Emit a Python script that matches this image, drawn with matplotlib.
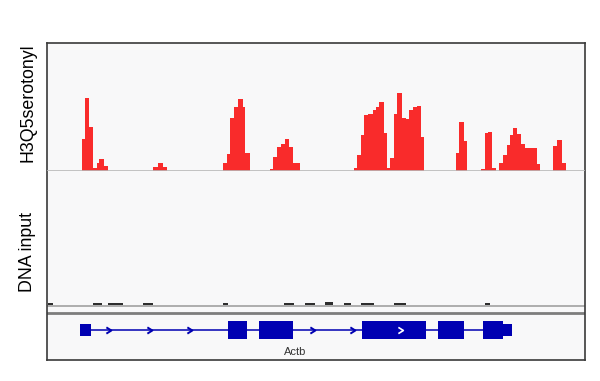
import matplotlib.pyplot as plt
from matplotlib.path import Path

# H3Q5serotonyl signal bins (locus coordinates along the window), heights in track units
sig_start = [82, 85, 89.3, 93.3, 96.7, 99.3, 104,
             153.3, 158.3, 163.3,
             223.3, 227.3, 230, 234, 238, 242.7, 245.3,
             269.5, 273, 277, 281, 285, 289, 293,
             354.3, 357.3, 361, 364.3, 368.3, 372.7, 376, 379, 384.3, 387.3,
             390, 394.3, 396.7, 401.7, 406, 409.3, 413.3, 416.7, 420.7,
             455.7, 459.3, 464,
             480.7, 485, 488.3, 492.3,
             499.3, 503.3, 506.7, 510, 513.3, 517.3, 520.7, 525, 536.7,
             552.7, 556.7, 561.7]
sig_end = [85, 89.3, 93.3, 96.7, 99.3, 104, 108.3,
           158.3, 163.3, 167.3,
           227.3, 230, 234, 238, 242.7, 245.3, 250,
           273, 277, 281, 285, 289, 293, 300,
           357.3, 361, 364.3, 368.3, 372.7, 376, 379, 384.3, 387.3, 390,
           394.3, 396.7, 401.7, 406, 409.3, 413.3, 416.7, 420.7, 424.3,
           459.3, 464, 466.7,
           485, 488.3, 492.3, 496,
           503.3, 506.7, 510, 513.3, 517.3, 520.7, 525, 536.7, 540,
           556.7, 561.7, 566]
sig_val = [32, 73, 44, 3, 8, 12, 5,
           4, 8, 4,
           8, 17, 53, 64, 72, 64, 18,
           2, 14, 24, 27, 32, 24, 8,
           3, 16, 36, 56, 57, 61, 64, 69, 38, 3,
           13, 57, 78, 53, 52, 61, 64, 65, 34,
           18, 49, 30,
           2, 38, 39, 3,
           8, 16, 26, 36, 43, 37, 27, 23, 7,
           25, 31, 8]

# DNA input: only tiny reads
inp_start = [48, 93, 108, 143, 223, 284, 305, 325, 344, 361, 394, 485]
inp_end = [53, 102, 123, 153, 228, 294, 315, 333, 351, 374, 406, 490]
inp_val = [1.6, 1.6, 1.6, 1.6, 1.6, 1.6, 1.6, 3.0, 1.6, 1.6, 1.6, 1.6]

# Actb gene model
gene_name = 'Actb'
utr_start = [80, 503.3]
utr_end = [91, 512.3]
exon_start = [227.7, 259, 361.7, 437.7, 483.3]
exon_end = [247.3, 293.3, 425.7, 464.3, 503.3]
intron_from, intron_to = 91, 483.3
arrow_pos = [109, 150, 190, 313, 353]
arrow_in_exon = [401]

x_lo, x_hi = 47, 585
W, H = 600, 381
red = '#f92b2b'
blue = '#0000b2'


def box(top, bottom):
    return [x_lo / W, 1 - bottom / H, (x_hi - x_lo) / W, (bottom - top) / H]


fig = plt.figure(figsize=(6.0, 3.81), dpi=100)
fig.patch.set_facecolor('white')

# frame around all tracks
frame = fig.add_axes(box(43, 360))
frame.set_facecolor('#f8f8f9')
frame.set_xlim(0, 1)
frame.set_ylim(360, 43)
frame.set_xticks([])
frame.set_yticks([])
for s in frame.spines.values():
    s.set_color('#3a3a3a')
    s.set_linewidth(1.2)
frame.axhline(306, color='#a8a8a8', lw=1.3)
frame.axhline(312.5, color='#7d7d7d', lw=2.0)

# signal track
ax_sig = fig.add_axes(box(43, 171))
ax_sig.patch.set_alpha(0)
ax_sig.bar(sig_start, sig_val, width=[e - s for s, e in zip(sig_start, sig_end)],
           align='edge', color=red, linewidth=0)
ax_sig.axhline(0, color='#b9b9b9', lw=1.2)
ax_sig.set_xlim(x_lo, x_hi)
ax_sig.set_ylim(0, 128)
ax_sig.axis('off')

# input track
ax_inp = fig.add_axes(box(171, 305))
ax_inp.patch.set_alpha(0)
ax_inp.bar(inp_start, inp_val, width=[e - s for s, e in zip(inp_start, inp_end)],
           align='edge', color='#2e2e2e', linewidth=0)
ax_inp.set_xlim(x_lo, x_hi)
ax_inp.set_ylim(0, 134)
ax_inp.axis('off')

# gene track
ax_gene = fig.add_axes(box(313, 360))
ax_gene.patch.set_alpha(0)
ax_gene.set_xlim(x_lo, x_hi)
ax_gene.set_ylim(360, 313)
ax_gene.axis('off')
gy = 330
ax_gene.plot([intron_from, intron_to], [gy, gy], color=blue, lw=1.1, zorder=1)
ax_gene.broken_barh([(s, e - s) for s, e in zip(exon_start, exon_end)],
                    (gy - 9.3, 18.6), facecolor=blue, edgecolor='none', zorder=2)
ax_gene.broken_barh([(s, e - s) for s, e in zip(utr_start, utr_end)],
                    (gy - 6.2, 12.4), facecolor=blue, edgecolor='none', zorder=2)
chevron = Path([(-1, 1), (0.6, 0), (-1, -1)], [Path.MOVETO, Path.LINETO, Path.LINETO])
ax_gene.plot(arrow_pos, [gy] * len(arrow_pos), linestyle='none', marker=chevron,
             markersize=4.5, mfc='none', mec=blue, mew=1.4, zorder=3)
ax_gene.plot(arrow_in_exon, [gy] * len(arrow_in_exon), linestyle='none', marker=chevron,
             markersize=4.5, mfc='none', mec='white', mew=1.2, zorder=3)
ax_gene.text(295, 352, gene_name, ha='center', va='center', fontsize=8,
             family='Liberation Sans', color='#333333')

# track names
fig.text(28 / W, 1 - 103 / H, 'H3Q5serotonyl', rotation=90, ha='center', va='center',
         fontsize=12.8, family='Liberation Sans', color='black')
fig.text(28 / W, 1 - 252 / H, 'DNA input', rotation=90, ha='center', va='center',
         fontsize=12.8, family='Liberation Sans', color='black')

fig.savefig('out.png', dpi=100)
